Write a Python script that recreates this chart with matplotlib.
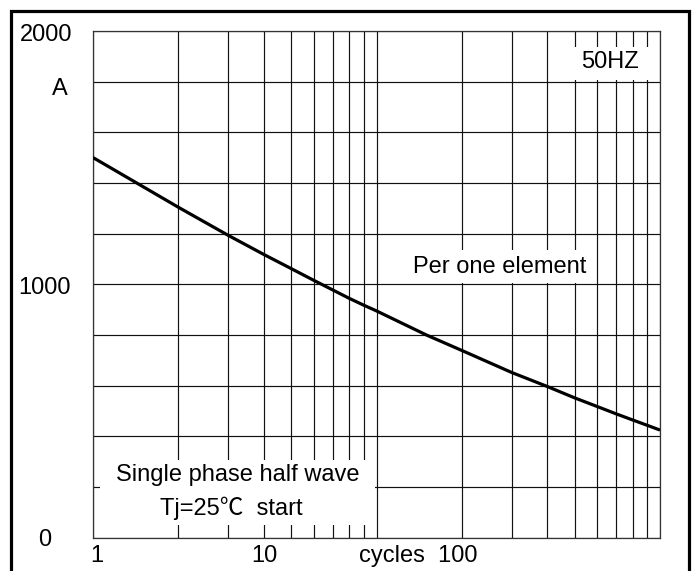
import matplotlib
matplotlib.use("Agg")
import matplotlib.pyplot as plt
from matplotlib.patches import Rectangle

# ---- data ----
cycles = [1, 2, 3, 4, 5, 6, 7, 8, 9, 10, 15, 20, 30, 40, 50, 60, 70, 80, 90, 100]
current = [1500, 1304, 1193, 1118, 1062, 1016, 978, 945, 918, 895, 800, 739, 652, 597, 552, 518, 489, 465, 444, 425]
x_minor = [2, 3, 4, 5, 6, 7, 8, 9, 20, 30, 40, 50, 60, 70, 80, 90]
x_major = [1, 10, 100]
y_grid = [0, 200, 400, 600, 800, 1000, 1200, 1400, 1600, 1800, 2000]
y_labels = ["2000", "1000", "0"]
x_labels = ["1", "10", "cycles  100"]

FONT = ["Liberation Sans", "Noto Sans CJK SC", "DejaVu Sans"]
plt.rcParams["font.family"] = FONT
FS = 17

fig = plt.figure(figsize=(6.97, 5.71), dpi=100)
L, R, T, B = 93, 660, 30.8, 537.8
W, H = 697, 571
ax = fig.add_axes([L / W, 1 - B / H, (R - L) / W, (B - T) / H])

ax.set_xscale("log")
ax.set_xlim(1, 100)
ax.set_ylim(0, 2000)
ax.set_xticks(x_major)
ax.set_xticks(x_minor, minor=True)
ax.set_yticks(y_grid)
ax.set_xticklabels([])
ax.set_xticklabels([], minor=True)
ax.set_yticklabels([])
ax.tick_params(which="both", length=0)
ax.grid(True, which="both", color="#111111", linewidth=0.85)
for s in ax.spines.values():
    s.set_color("#333333")
    s.set_linewidth(0.9)

# white label boxes (axes fraction)
boxes = [
    (0.0123, 0.025, 0.485, 0.128),   # single phase
    (0.506, 0.503, 0.380, 0.065),    # per one element
    (0.824, 0.902, 0.166, 0.066),    # 50HZ
]
for (bx, by, bw, bh) in boxes:
    ax.add_patch(Rectangle((bx, by), bw, bh, transform=ax.transAxes,
                           facecolor="white", edgecolor="none", zorder=2.5))

ax.plot(cycles, current, color="black", linewidth=2.3, zorder=3,
        solid_capstyle="butt", solid_joinstyle="round")

def fx(px):
    return (px - L) / (R - L)

def fy(py):
    return (B - py) / (B - T)

ax.text(fx(610), fy(61.7), "50HZ", transform=ax.transAxes, ha="center",
        va="center", fontsize=FS, zorder=4)
ax.text(fx(500), fy(266.7), "Per one element", transform=ax.transAxes,
        ha="center", va="center", fontsize=FS, zorder=4)
ax.text(fx(238), fy(475), "Single phase half wave", transform=ax.transAxes,
        ha="center", va="center", fontsize=FS, zorder=4)
ax.text(fx(231), fy(508), "Tj=25℃  start", transform=ax.transAxes,
        ha="center", va="center", fontsize=FS, zorder=4)

# y labels
ax.text(fx(72), fy(35), y_labels[0], transform=ax.transAxes, ha="right",
        va="center", fontsize=FS, clip_on=False)
ax.text(fx(70.5), fy(287.5), y_labels[1], transform=ax.transAxes, ha="right",
        va="center", fontsize=FS, clip_on=False)
ax.text(fx(45), fy(540), y_labels[2], transform=ax.transAxes, ha="center",
        va="center", fontsize=FS, clip_on=False)
ax.text(fx(59.5), fy(89), "A", transform=ax.transAxes, ha="center",
        va="center", fontsize=FS, clip_on=False)

# x labels
ax.text(fx(97), fy(556), x_labels[0], transform=ax.transAxes, ha="center",
        va="center", fontsize=FS, clip_on=False)
ax.text(fx(264), fy(556), x_labels[1], transform=ax.transAxes, ha="center",
        va="center", fontsize=FS, clip_on=False)
ax.text(fx(418), fy(556), x_labels[2], transform=ax.transAxes, ha="center",
        va="center", fontsize=FS, clip_on=False)

# outer frame
fig.add_artist(Rectangle((10.5 / W, -0.1), (689 - 10.5) / W, 1.1 - 11.5 / H,
                         transform=fig.transFigure, facecolor="none",
                         edgecolor="black", linewidth=2.3))

fig.savefig("out.png", dpi=100)
